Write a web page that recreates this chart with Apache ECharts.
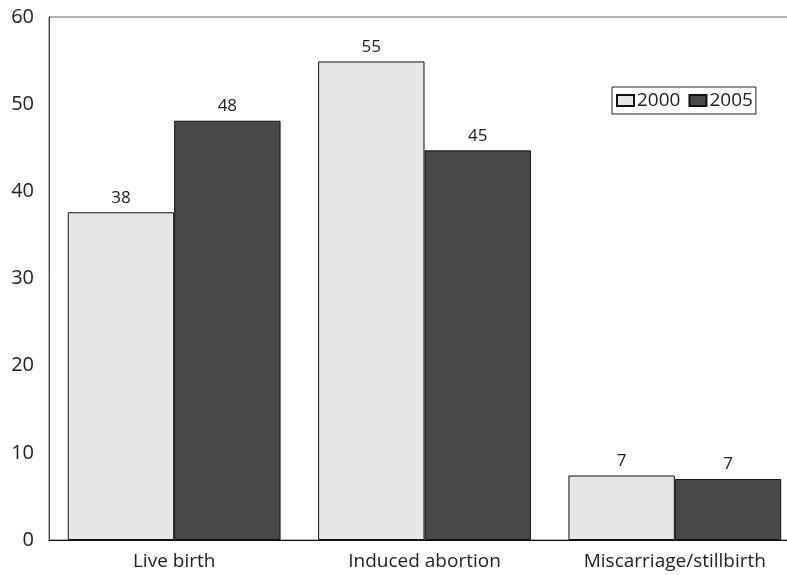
<!DOCTYPE html>
<html><head><meta charset="utf-8">
<script src="https://cdn.jsdelivr.net/npm/echarts@6/dist/echarts.min.js"></script>
<style>html,body{margin:0;padding:0;background:#fff}#c{width:787px;height:575px}</style>
</head><body><div id="c"></div>
<script>
const categories = ["Live birth", "Induced abortion", "Miscarriage/stillbirth"];
const values2000 = [37.6, 54.9, 7.4];
const values2005 = [48.1, 44.7, 7.0];
const seriesNames = ["2000", "2005"];
const yTicks = [0, 10, 20, 30, 40, 50, 60];

const font = "Open Sans";
const chart = echarts.init(document.getElementById('c'));
const lbl = {show: true, position: 'top', distance: 6, fontFamily: font, fontSize: 17, color: '#222',
  formatter: p => Math.round(p.value)};
chart.setOption({
  animation: false,
  grid: {left: 49, top: 17, height: 523, width: 751, outerBoundsMode: 'none', containLabel: false,
    show: true, borderColor: '#666', borderWidth: 1},
  legend: {
    data: seriesNames, left: 612, top: 87, orient: 'horizontal',
    padding: [4, 3, 4, 4], itemGap: 8, itemWidth: 17, itemHeight: 11, icon: 'rect',
    borderColor: '#222', borderWidth: 1,
    textStyle: {fontFamily: font, fontSize: 19, color: '#222', padding: [0, 0, 0, -2]}
  },
  xAxis: {
    type: 'category', data: categories,
    axisLine: {lineStyle: {color: '#111'}}, axisTick: {show: false},
    axisLabel: {fontFamily: font, fontSize: 19, color: '#222', margin: 12}
  },
  yAxis: {
    type: 'value', min: yTicks[0], max: yTicks[yTicks.length - 1], interval: 10,
    axisLine: {show: true, lineStyle: {color: '#444'}}, axisTick: {show: false},
    splitLine: {show: false},
    axisLabel: {fontFamily: font, fontSize: 20, color: '#222', margin: 15}
  },
  series: [
    {name: seriesNames[0], type: 'bar', data: values2000, barCategoryGap: '15%', barGap: '0%',
     itemStyle: {color: '#e6e6e6', borderColor: '#111', borderWidth: 1}, label: lbl},
    {name: seriesNames[1], type: 'bar', data: values2005,
     itemStyle: {color: '#484848', borderColor: '#111', borderWidth: 1}, label: lbl}
  ]
});
</script></body></html>
